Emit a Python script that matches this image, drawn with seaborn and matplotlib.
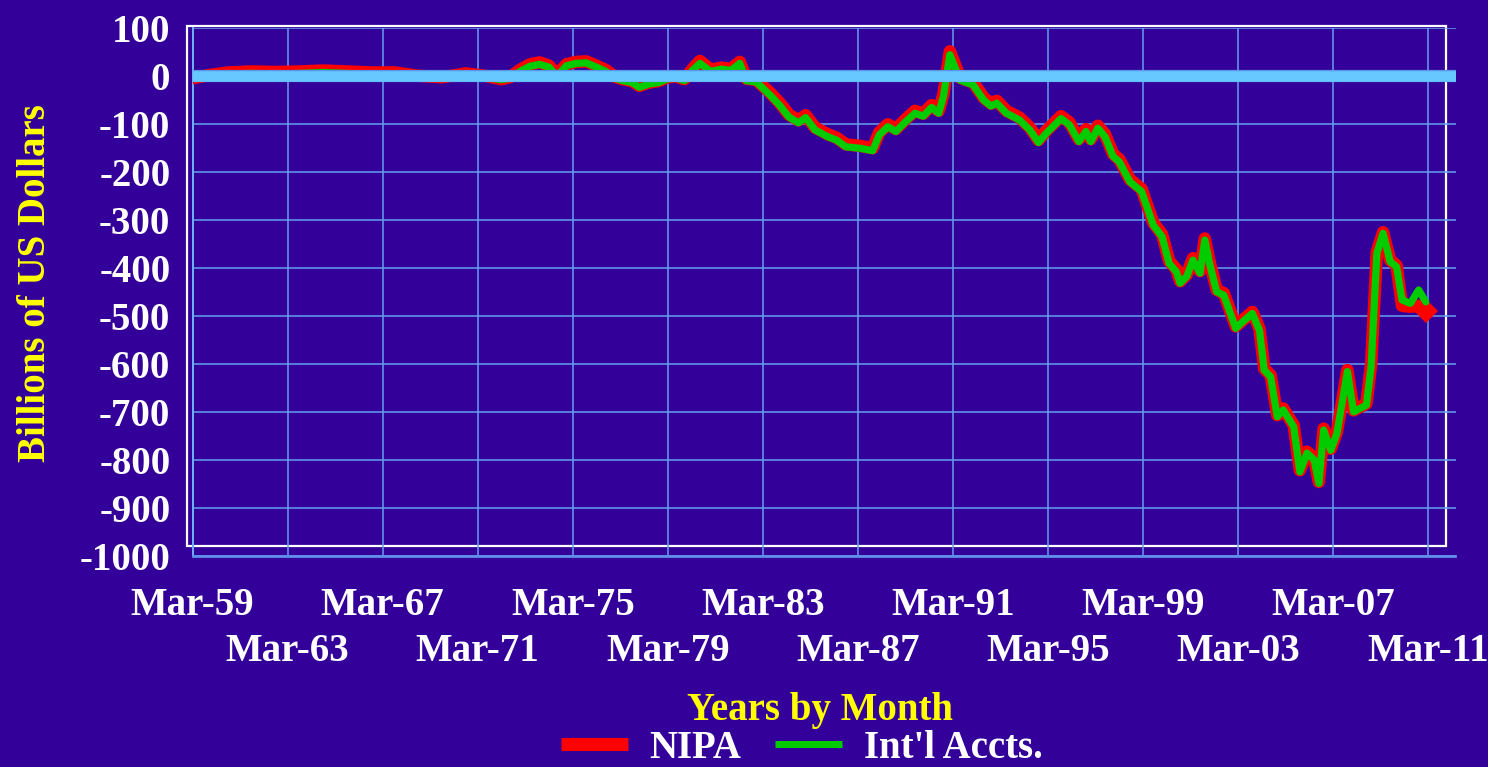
import pandas as pd
import seaborn as sns
import matplotlib.pyplot as plt
import matplotlib.patheffects as pe
from matplotlib.lines import Line2D
from matplotlib.patches import Rectangle

# US current account balance, billions of US dollars
# x = years counted so that Mar-59 sits at 1959
dates = [1959.0, 1959.75, 1960.5, 1961.5, 1962.5, 1963.5, 1964.5, 1965.5, 1966.5, 1967.5,
         1968.5, 1969.5, 1970.5, 1971.3, 1972.0, 1972.35, 1972.77,
         1973.2, 1973.6, 1974.0, 1974.35, 1974.73, 1975.15, 1975.57, 1976.0, 1976.4, 1976.77,
         1977.1, 1977.5, 1977.8, 1978.2, 1978.6, 1978.95, 1979.3, 1979.7, 1980.05, 1980.35,
         1980.8, 1981.26, 1981.65, 1982.03, 1982.3, 1982.73, 1983.3, 1983.7, 1984.1, 1984.5,
         1984.8, 1985.2, 1985.74, 1986.1, 1986.5, 1987.1, 1987.62, 1987.9, 1988.26, 1988.6,
         1989.0, 1989.4, 1989.75, 1990.1, 1990.4, 1990.6, 1990.87, 1991.3, 1991.85, 1992.3,
         1992.6, 1992.85, 1993.25, 1993.8, 1994.24, 1994.6, 1994.9, 1995.55, 1995.9, 1996.3,
         1996.6, 1996.8, 1997.1, 1997.4, 1997.74, 1998.0, 1998.45, 1998.94, 1999.43, 1999.8,
         2000.1, 2000.4, 2000.56, 2000.84, 2001.1, 2001.4, 2001.6, 2001.8, 2002.1, 2002.4,
         2002.9, 2003.2, 2003.6, 2003.9, 2004.1, 2004.37, 2004.65, 2004.9, 2005.34, 2005.6,
         2005.9, 2006.2, 2006.4, 2006.6, 2006.9, 2007.16, 2007.6, 2007.86, 2008.4, 2008.6,
         2008.84, 2009.1, 2009.4, 2009.67, 2009.9, 2010.25, 2010.6, 2010.9]

intl = [-3, 1, 5, 6, 5, 6, 8, 6, 4, 4,
        0, -1, 3, -2, -7, -4, 10,
        21, 25, 19, 0, 22, 27, 28, 19, 10, -4,
        -9, -13, -23, -16, -13, -6, -3, -9, 13, 27,
        10, 15, 12, 27, -9, -12, -39, -60, -85, -97,
        -86, -112, -126, -133, -147, -150, -155, -122, -105, -115,
        -95, -77, -83, -65, -77, -42, 45, -8, -18, -50,
        -62, -56, -77, -91, -112, -138, -120, -88, -101, -136,
        -115, -136, -108, -126, -167, -178, -220, -240, -310, -334,
        -390, -407, -431, -417, -383, -410, -341, -390, -449, -456,
        -525, -511, -494, -529, -612, -626, -709, -695, -730, -824,
        -785, -799, -848, -737, -779, -744, -615, -699, -685, -605,
        -369, -327, -386, -397, -466, -473, -445, -470]

nipa = [-4, 3, 8, 10, 9, 10, 12, 10, 8, 8,
        1, -2, 6, 1, -6, -2, 13,
        25, 29, 22, 3, 25, 30, 31, 22, 13, -1,
        -6, -10, -20, -13, -10, -3, 0, -6, 16, 32,
        14, 18, 15, 30, -5, -8, -34, -55, -80, -92,
        -81, -107, -121, -128, -142, -145, -150, -117, -100, -110,
        -90, -72, -78, -60, -72, -37, 52, -3, -13, -45,
        -57, -51, -72, -86, -107, -133, -115, -83, -96, -131,
        -110, -131, -103, -121, -162, -173, -215, -235, -305, -329,
        -385, -402, -427, -413, -379, -406, -338, -386, -445, -452,
        -521, -508, -491, -526, -609, -623, -706, -692, -727, -821,
        -782, -796, -845, -734, -776, -741, -612, -696, -682, -600,
        -366, -325, -383, -394, -478, -480, -478, -488]

row1_years = [1959, 1967, 1975, 1983, 1991, 1999, 2007]
row1_labels = ["Mar-59", "Mar-67", "Mar-75", "Mar-83", "Mar-91", "Mar-99", "Mar-07"]
row2_years = [1963, 1971, 1979, 1987, 1995, 2003, 2011]
row2_labels = ["Mar-63", "Mar-71", "Mar-79", "Mar-87", "Mar-95", "Mar-03", "Mar-11"]
y_ticks = [100, 0, -100, -200, -300, -400, -500, -600, -700, -800, -900, -1000]
y_labels = ["100", "0", "-100", "-200", "-300", "-400", "-500", "-600", "-700", "-800", "-900", "-1000"]
y_minor = [50, -50, -150, -250, -350, -450, -550, -650, -750, -850, -950]

df = pd.DataFrame({"year": dates, "NIPA": nipa, "Intl": intl})

bg = "#330099"
grid_col = "#64A0F0"

sns.set_style("white")
plt.rcParams["font.family"] = ["Liberation Serif", "DejaVu Serif"]
plt.rcParams["font.weight"] = "bold"

W, H = 1488, 767
fig = plt.figure(figsize=(W / 100, H / 100), dpi=100, facecolor=bg)
ax = fig.add_axes([192.6 / W, 1 - 556.3 / H, (1455.5 - 192.6) / W, (556.3 - 28.3) / H])
ax.set_facecolor("none")

# white frame behind the grid
fig.add_artist(Rectangle((186.5 / W, 1 - 546 / H), (1445.7 - 186.5) / W, (546 - 25.7) / H,
                         transform=fig.transFigure, fill=False, edgecolor="white",
                         linewidth=1.6, zorder=-1))

sns.lineplot(data=df, x="year", y="NIPA", color="#FF0000", ax=ax,
             marker="D", markevery=[len(dates) - 1], markersize=12, markeredgewidth=0,
             sort=False, zorder=3)
sns.lineplot(data=df, x="year", y="Intl", color="#00CC00", ax=ax,
             sort=False, zorder=4)
ax.lines[0].set_linewidth(9)
ax.lines[0].set_solid_joinstyle("round")
ax.lines[1].set_linewidth(5.2)
ax.lines[1].set_solid_joinstyle("round")
ax.axhline(0, color="#66C8FF", linewidth=7.6, zorder=5,
           path_effects=[pe.Stroke(linewidth=8.8, foreground="#5A96E6"), pe.Normal()])

ax.set_xlim(1959, 2012.15)
ax.set_ylim(-1000, 100)
ax.set_xticks(row1_years, row1_labels)
ax.set_xticks(row2_years, row2_labels, minor=True)
ax.set_yticks(y_ticks, y_labels)
ax.set_yticks(y_minor, minor=True)
ax.set_xlabel("")
ax.set_ylabel("")

ax.grid(axis="x", which="both", color=grid_col, linewidth=1.1)
ax.grid(axis="y", which="major", color=grid_col, linewidth=1.1)
ax.set_axisbelow(True)

ax.tick_params(axis="x", which="major", length=0, pad=22.4, labelsize=28, labelcolor="white")
ax.tick_params(axis="x", which="minor", length=0, pad=55, labelsize=28, labelcolor="white")
ax.tick_params(axis="y", which="major", direction="out", length=2, width=1.1, color=grid_col,
               pad=14, labelsize=28, labelcolor="white")
ax.tick_params(axis="y", which="minor", direction="inout", length=7.5, width=1.4, color="#E0DDF0")

for side in ["top", "right"]:
    ax.spines[side].set_visible(False)
ax.spines["left"].set_color("#6FB0FF")
ax.spines["left"].set_linewidth(1.4)
ax.spines["bottom"].set_color("#5F8FE8")
ax.spines["bottom"].set_linewidth(2)

fig.text(36 / W, 1 - 283 / H, "Billions of US Dollars", rotation=90, color="#FFFF00",
         fontsize=28, fontweight="bold", ha="center", va="center")
fig.text(820 / W, 1 - 720 / H, "Years by Month", color="#FFFF00",
         fontsize=28, fontweight="bold", ha="center", va="baseline")

handles = [Line2D([], [], color="#FF0000", linewidth=9.4, solid_capstyle="butt"),
           Line2D([], [], color="#00CC00", linewidth=5, solid_capstyle="butt")]
fig.legend(handles, ["NIPA", "Int'l Accts."], loc="center", bbox_to_anchor=(802 / W, 1 - 748 / H),
           ncol=2, frameon=False, fontsize=28, labelcolor="white", handlelength=1.7,
           handletextpad=0.57, columnspacing=0.87, borderpad=0)

fig.savefig("out.png", dpi=100, facecolor=bg)
